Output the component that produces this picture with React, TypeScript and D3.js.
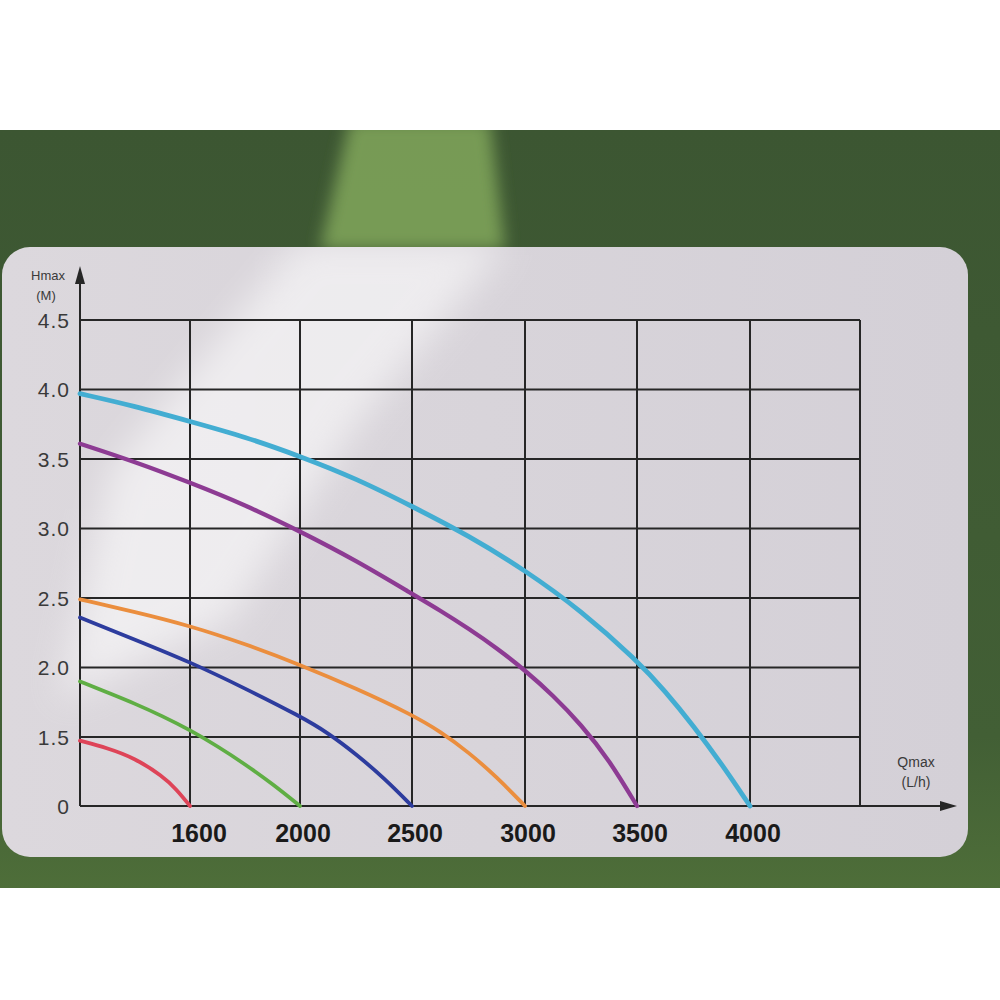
import React from 'react';
import * as d3 from 'd3';

// ---- data ----
const flowDomain = [0, 1600, 2000, 2500, 3000, 3500, 4000, 4500];
const xTickLabels = ['1600', '2000', '2500', '3000', '3500', '4000'];
const headTicks = [0, 1.5, 2.0, 2.5, 3.0, 3.5, 4.0, 4.5];
const headTickLabels = ['0', '1.5', '2.0', '2.5', '3.0', '3.5', '4.0', '4.5'];

const redQ = [0, 400, 800, 1200, 1400, 1600];
const redH = [1.42, 1.26, 1.04, 0.65, 0.37, 0];
const greenQ = [0, 400, 800, 1200, 1600, 1700, 1800, 1900, 2000];
const greenH = [1.9, 1.82, 1.74, 1.65, 1.55, 1.3, 0.91, 0.48, 0];
const blueQ = [0, 800, 1600, 1800, 2000, 2125, 2250, 2375, 2500];
const blueH = [2.36, 2.2, 2.04, 1.85, 1.65, 1.53, 1.13, 0.61, 0];
const orangeQ = [0, 800, 1600, 1800, 2000, 2250, 2500, 2625, 2750, 2875, 3000];
const orangeH = [2.49, 2.4, 2.3, 2.17, 2.02, 1.85, 1.66, 1.54, 1.17, 0.63, 0];
const purpleQ = [0, 800, 1600, 1800, 2000, 2250, 2500, 2625, 2750, 2875, 3000, 3125, 3250, 3375, 3500];
const purpleH = [3.61, 3.48, 3.33, 3.17, 2.98, 2.77, 2.53, 2.41, 2.28, 2.14, 1.98, 1.8, 1.59, 1.01, 0];
const cyanQ = [0, 800, 1600, 1800, 2000, 2250, 2500, 2750, 3000, 3250, 3500, 3625, 3750, 3875, 4000];
const cyanH = [3.97, 3.88, 3.77, 3.66, 3.52, 3.36, 3.16, 2.95, 2.7, 2.41, 2.05, 1.83, 1.58, 0.91, 0];

const seriesColors = ['#de4458', '#5fae44', '#2d3c9e', '#eb8e3e', '#8d3b93', '#43add2'];
const seriesWidths = [3.8, 3.8, 3.8, 3.8, 4.3, 4.8];

export default function App() {
  const x = d3.scaleLinear().domain(flowDomain).range([80, 190, 300, 412, 525, 637, 750, 860]);
  const y = d3.scaleLinear().domain([0, 1.5, 4.5]).range([806, 737, 320]);

  const series = [
    [redQ, redH], [greenQ, greenH], [blueQ, blueH],
    [orangeQ, orangeH], [purpleQ, purpleH], [cyanQ, cyanH],
  ];
  const line = d3.line<[number, number]>()
    .x(d => x(d[0]))
    .y(d => y(d[1]))
    .curve(d3.curveBasis);

  const x0 = x(0), x1 = x(4500);
  const yTop = y(4.5), yBot = y(0);
  const gridColor = '#262626';
  const font = 'Liberation Sans, Arial, sans-serif';

  return (
    <svg width={1000} height={1000} style={{ position: 'fixed', left: 0, top: 0 }}>
      <defs>
        <linearGradient id="greenG" x1="0" y1="0" x2="0" y2="1">
          <stop offset="0" stopColor="#3c5632" />
          <stop offset="0.8" stopColor="#425f35" />
          <stop offset="1" stopColor="#4e6e39" />
        </linearGradient>
        <linearGradient id="cardG" x1="0" y1="0" x2="1" y2="0">
          <stop offset="0" stopColor="#dcd8dd" />
          <stop offset="1" stopColor="#d4d0d7" />
        </linearGradient>
        <filter id="blur" x="-50%" y="-50%" width="200%" height="200%">
          <feGaussianBlur stdDeviation="18" />
        </filter>
        <filter id="blur2" x="-50%" y="-50%" width="200%" height="200%">
          <feGaussianBlur stdDeviation="8" />
        </filter>
        <clipPath id="cardClip">
          <rect x={2} y={247} width={966} height={610} rx={28} />
        </clipPath>
        <clipPath id="greenClip">
          <rect x={0} y={130} width={1000} height={117} />
        </clipPath>
      </defs>
      <rect x={0} y={0} width={1000} height={1000} fill="#ffffff" />
      <rect x={0} y={130} width={1000} height={758} fill="url(#greenG)" />
      <g clipPath="url(#greenClip)">
        <polygon points="350,120 490,120 505,250 320,250" fill="#82a75c" opacity={0.85} filter="url(#blur2)" />
      </g>
      <rect x={2} y={247} width={966} height={610} rx={28} fill="url(#cardG)" />
      <g clipPath="url(#cardClip)">
        <polygon points="300,240 510,240 360,420 230,620 60,700 110,470" fill="#ffffff" opacity={0.55} filter="url(#blur)" />
      </g>

      {/* grid */}
      {headTicks.filter(v => v > 0).map(v => (
        <line key={'h' + v} x1={x0} x2={x1} y1={y(v)} y2={y(v)} stroke={gridColor} strokeWidth={2} />
      ))}
      {flowDomain.filter(v => v > 0).map(v => (
        <line key={'v' + v} x1={x(v)} x2={x(v)} y1={yTop} y2={yBot} stroke={gridColor} strokeWidth={2} />
      ))}
      {/* axes */}
      <line x1={x0} x2={x0} y1={yBot} y2={272} stroke={gridColor} strokeWidth={2} />
      <polygon points={`${x0 - 5},${284} ${x0 + 5},${284} ${x0},${266}`} fill={gridColor} />
      <line x1={x0} x2={945} y1={yBot} y2={yBot} stroke={gridColor} strokeWidth={2} />
      <polygon points={`${940},${yBot - 5} ${940},${yBot + 5} ${957},${yBot}`} fill={gridColor} />

      {/* curves */}
      {series.map((s, i) => (
        <path key={i} d={line(s[0].map((q, j) => [q, s[1][j]]) as [number, number][]) || ''}
          fill="none" stroke={seriesColors[i]} strokeWidth={seriesWidths[i]} strokeLinecap="round" />
      ))}

      {/* y labels */}
      {headTicks.map((v, i) => (
        <text key={'yl' + v} x={70} y={y(v)} dy="0.36em" textAnchor="end"
          fontFamily={font} fontSize={21} letterSpacing={1} fill="#3a3a3a">
          {headTickLabels[i]}
        </text>
      ))}
      <text x={48} y={275} dy="0.36em" textAnchor="middle" fontFamily={font} fontSize={13} fill="#3a3a3a">Hmax</text>
      <text x={46} y={295} dy="0.36em" textAnchor="middle" fontFamily={font} fontSize={13} fill="#3a3a3a">(M)</text>

      {/* x labels */}
      {xTickLabels.map(l => (
        <text key={'xl' + l} x={x(+l) + (l === '1600' ? 9 : 3)} y={833} dy="0.36em" textAnchor="middle"
          fontFamily={font} fontSize={25} fontWeight="bold" fill="#1a1a1a">
          {l}
        </text>
      ))}
      <text x={916} y={762} dy="0.36em" textAnchor="middle" fontFamily={font} fontSize={14} fill="#3a3a3a">Qmax</text>
      <text x={916} y={782} dy="0.36em" textAnchor="middle" fontFamily={font} fontSize={14} fill="#3a3a3a">(L/h)</text>
    </svg>
  );
}
